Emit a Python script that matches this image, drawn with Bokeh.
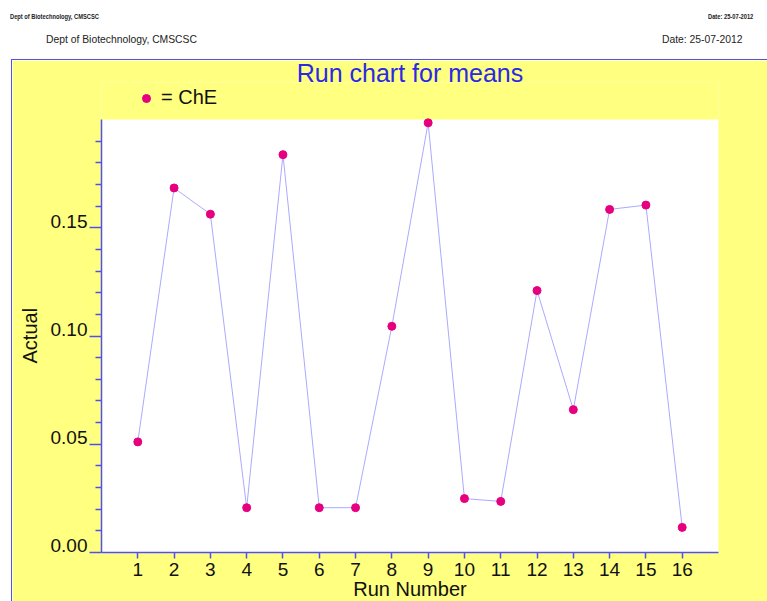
from bokeh.plotting import figure
from bokeh.models import (FixedTicker, LinearAxis, Range1d, Legend, LegendItem, Div, Spacer,
                          Title, BoxAnnotation, GlobalInlineStyleSheet)
from bokeh.layouts import column, row
from bokeh.embed import file_html
from bokeh.resources import INLINE

# ---- data ----
runs = list(range(1, 17))
actual = [0.0511, 0.1684, 0.1563, 0.0207, 0.1838, 0.0207, 0.0207, 0.1045,
          0.1985, 0.0249, 0.0236, 0.1210, 0.0660, 0.1585, 0.1605, 0.0116]
series_name = "ChE"
x_ticks = list(range(1, 17))
y_ticks = [0.0, 0.05, 0.10, 0.15]
y_tick_labels = ["0.00", "0.05", "0.10", "0.15"]
y_minor = [0.01, 0.02, 0.03, 0.04, 0.06, 0.07, 0.08, 0.09, 0.11, 0.12, 0.13, 0.14,
           0.16, 0.17, 0.18, 0.19]
title_text = "Run chart for means"
x_label = "Run Number"
y_label = "Actual"
header_left = "Dept of Biotechnology, CMSCSC"
header_right = "Date: 25-07-2012"

# ---- styles / geometry ----
YELLOW = "#ffff80"
BLUE = "#5050ee"
FONT = "Liberation Sans"
X0, X1 = 0, 17
Y0, Y1 = 0.0, 0.2
FRAME_W = 616
PLOT_H = 432           # white plotting area height in px
FRAME_H = 469          # frame also holds the legend strip above the white area
Y_TOP = Y1 * FRAME_H / PLOT_H

p = figure(frame_width=FRAME_W, frame_height=FRAME_H,
           x_range=Range1d(X0, X1), y_range=Range1d(Y0, Y_TOP),
           output_backend="svg", toolbar_location=None, title=None,
           min_border_left=89, min_border_right=50, min_border_top=22, min_border_bottom=50,
           background_fill_color=YELLOW, border_fill_color=YELLOW,
           x_axis_label=x_label,
           styles={"border-left": "1px solid " + BLUE, "border-top": "1px solid " + BLUE})
p.outline_line_color = None
p.grid.visible = False

# white plotting area
p.add_layout(BoxAnnotation(left=X0, right=X1, bottom=Y0, top=Y1, fill_color="white",
                           fill_alpha=1, line_color=None, level="underlay"))

xa = p.xaxis[0]
xa.ticker = FixedTicker(ticks=x_ticks)
xa.axis_line_color = BLUE
xa.axis_line_width = 1.5
xa.major_tick_line_color = BLUE
xa.major_tick_line_width = 1.5
xa.major_tick_out = 6
xa.major_tick_in = 0
xa.minor_tick_line_color = None
xa.major_label_standoff = 4
xa.major_label_text_font = FONT
xa.major_label_text_font_size = "19px"
xa.major_label_text_color = "#111111"
xa.axis_label_text_font = FONT
xa.axis_label_text_font_size = "20px"
xa.axis_label_text_font_style = "normal"
xa.axis_label_text_color = "#111111"
xa.axis_label_standoff = -1

# tick marks (labels drawn by a second axis so they sit on the tick like the original)
ya = p.yaxis[0]
ya.bounds = (Y0, Y1)
ya.ticker = FixedTicker(ticks=y_ticks, minor_ticks=y_minor)
ya.axis_line_color = BLUE
ya.axis_line_width = 1.5
ya.major_tick_line_color = BLUE
ya.major_tick_line_width = 1.5
ya.minor_tick_line_color = BLUE
ya.minor_tick_line_width = 1.5
ya.major_tick_out = 12
ya.major_tick_in = 0
ya.minor_tick_out = 6
ya.minor_tick_in = 0
ya.major_label_overrides = {t: "" for t in y_ticks}
ya.major_label_standoff = 0

label_shift = 6.5 * (Y1 - Y0) / PLOT_H
shifted = [t + label_shift for t in y_ticks]
lab_axis = LinearAxis(ticker=FixedTicker(ticks=shifted, minor_ticks=[]),
                      bounds=(Y0, Y1),
                      major_label_overrides=dict(zip(shifted, y_tick_labels)),
                      axis_line_color=None, major_tick_line_color=None,
                      minor_tick_line_color=None,
                      major_tick_out=0, major_tick_in=0, minor_tick_out=0, minor_tick_in=0,
                      major_label_standoff=2,
                      major_label_text_font=FONT, major_label_text_font_size="19px",
                      major_label_text_color="#111111")
p.add_layout(lab_axis, "left")

# y axis title, centred on the white plotting area (not on the taller frame)
y_title_offset = 189
p.add_layout(Title(text=y_label, align="left", offset=y_title_offset, vertical_align="top",
                   text_font=FONT, text_font_size="20px", text_font_style="normal",
                   text_color="#111111", standoff=9), "left")

p.line(runs, actual, line_color="#aaaaff", line_width=1)
pts = p.scatter(runs, actual, size=8, fill_color="#e6007e", line_color="#e6007e")

legend = Legend(items=[LegendItem(label="= " + series_name, renderers=[pts])],
                location=(35, 443), glyph_width=20, glyph_height=20, label_standoff=5,
                padding=0, margin=0, spacing=0, border_line_color=None,
                background_fill_alpha=0, label_text_font=FONT,
                label_text_font_size="20px", label_text_color="#111111")
p.add_layout(legend)

p.add_layout(Title(text=title_text, align="center", text_font=FONT, text_font_size="25px",
                   text_font_style="normal", text_color="#2a2ae6", standoff=-9), "above")

span = "position:absolute;white-space:nowrap;line-height:1;transform-origin:left center;"
header_html = (
    f'<div style="position:relative;width:767px;height:59px;font-family:\'{FONT}\',Arial,sans-serif;color:#222;">'
    f'<span style="{span}left:10px;top:13px;font-size:7px;font-weight:bold;transform:scaleX(0.82);">{header_left}</span>'
    f'<span style="{span}left:708px;top:13px;font-size:7px;font-weight:bold;transform:scaleX(0.82);">{header_right}</span>'
    f'<span style="{span}left:46px;top:34px;font-size:11px;transform:scaleX(0.94);">{header_left}</span>'
    f'<span style="{span}left:662px;top:34px;font-size:11px;transform:scaleX(0.94);">{header_right}</span>'
    '</div>'
)
header = Div(text=header_html, width=767, height=59, margin=0,
             stylesheets=[GlobalInlineStyleSheet(css="html, body { overflow: hidden; }")])

layout = column(header, row(Spacer(width=11, height=10, margin=0), p, spacing=0), spacing=0)

open("out.html", "w").write(file_html(layout, INLINE))
